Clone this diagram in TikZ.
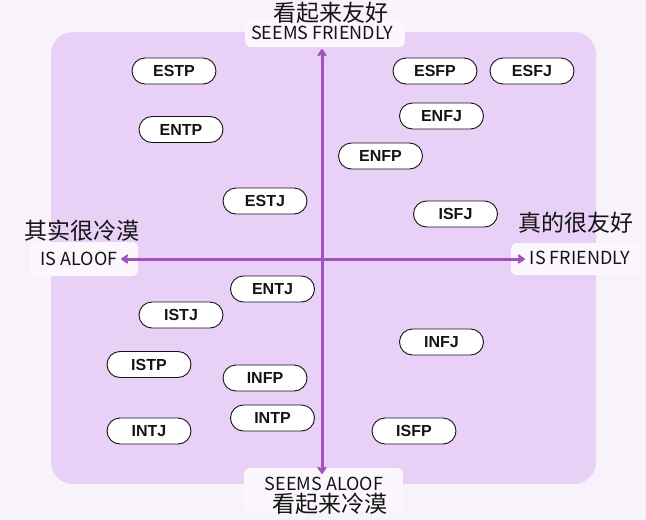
\documentclass[tikz,border=0pt]{standalone}
\usepackage{fontspec}
\setmainfont{Liberation Sans}
\newfontfamily\cjk{Noto Sans CJK SC}
\usetikzlibrary{arrows.meta}
\definecolor{bgc}{HTML}{F8F2FA}
\definecolor{panel}{HTML}{E8D0F7}
\definecolor{patch}{HTML}{FBF7FC}
\definecolor{axisc}{HTML}{A251BE}
\definecolor{ink}{HTML}{141414}
\tikzset{
  pill/.style={draw=ink, fill=white, line width=0.9pt, rounded corners=13pt,
    minimum width=84pt, minimum height=26pt, inner sep=0pt, text=ink,
    font=\fontsize{16}{16}\selectfont\bfseries},
  patchbox/.style={fill=patch, draw=none, rounded corners=6pt},
  cjklabel/.style={inner sep=0pt, text=ink, font=\cjk\fontsize{23}{23}\selectfont},
  enlabel/.style={inner sep=0pt, text=ink, font=\cjk\fontsize{18}{18}\selectfont},
  axisline/.style={draw=axisc, line width=3pt,
    {Stealth[length=9pt,width=12pt,inset=3pt,round]}-{Stealth[length=9pt,width=12pt,inset=3pt,round]}}
}
\begin{document}
\begin{tikzpicture}[x=1pt,y=-1pt]
\useasboundingbox (0,0) rectangle (646,520);
\fill[bgc] (0,0) rectangle (646,520);
\fill[panel, rounded corners=22pt] (51,32) rectangle (596,484);
% label patches
\fill[patchbox] (245,20) rectangle (405,47);
\fill[patchbox] (244,468) rectangle (403,512);
\fill[patchbox] (30,242) rectangle (138,276);
\fill[patchbox] (511,243) rectangle (640,275);
% axes
\coordinate (axtop) at (322,49);
\coordinate (axbot) at (322,474);
\coordinate (axleft) at (121,259);
\coordinate (axright) at (525,259);
\draw[axisline] (axleft) -- (axright);
\draw[axisline] (axbot) -- (axtop);
% axis labels
\node[cjklabel] (tcn) at (331,13) {看起来友好};
\node[enlabel] (ten) at (322,33) {SEEMS FRIENDLY};
\node[enlabel] (ben) at (324,483.5) {SEEMS ALOOF};
\node[cjklabel] (bcn) at (330,504) {看起来冷漠};
\node[cjklabel] (lcn) at (82,231) {其实很冷漠};
\node[enlabel] (len) at (79,259) {IS ALOOF};
\node[cjklabel] (rcn) at (576,223) {真的很友好};
\node[enlabel] (ren) at (580,258) {IS FRIENDLY};
% types
\node[pill] (estp) at (174,71) {ESTP};
\node[pill] (esfp) at (435,71) {ESFP};
\node[pill] (esfj) at (532,71) {ESFJ};
\node[pill] (enfj) at (441.5,116) {ENFJ};
\node[pill] (entp) at (181,129.5) {ENTP};
\node[pill] (enfp) at (380.5,156) {ENFP};
\node[pill] (estj) at (265,201) {ESTJ};
\node[pill] (isfj) at (455.5,214) {ISFJ};
\node[pill] (entj) at (272.5,289) {ENTJ};
\node[pill] (istj) at (181,315) {ISTJ};
\node[pill] (infj) at (441.5,342) {INFJ};
\node[pill] (istp) at (149,364.5) {ISTP};
\node[pill] (infp) at (265,378) {INFP};
\node[pill] (intp) at (272.5,418) {INTP};
\node[pill] (intj) at (149,431) {INTJ};
\node[pill] (isfp) at (414,431) {ISFP};
\end{tikzpicture}
\end{document}
